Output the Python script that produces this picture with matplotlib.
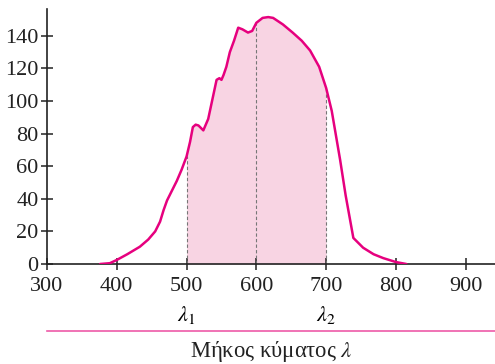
import matplotlib.pyplot as plt
from matplotlib.lines import Line2D

plt.rcParams['font.family'] = ['Liberation Serif', 'DejaVu Serif']
plt.rcParams['mathtext.fontset'] = 'stix'

# Spectrum curve
wavelength = [376, 390, 400, 415, 433, 445, 455, 462, 467, 472, 479, 486, 493,
              500, 505, 509, 513, 517, 524, 531, 537, 543, 547, 550, 553, 557,
              562, 568, 574, 580, 588, 594, 600, 609, 617, 624, 638, 652, 665,
              677, 690, 700, 708, 714, 720, 728, 739, 753, 768, 782, 800, 815]
intensity = [0, 0.5, 2.5, 6, 10.6, 15, 20, 26, 33, 39, 45, 51, 58,
             66, 75, 84, 85.5, 85, 82, 89, 101, 113, 114, 113, 116, 121,
             130, 137, 145, 144, 142, 143, 148, 151, 151.5, 151, 147, 142, 137,
             131, 121, 108, 94, 79, 64, 42, 16, 10, 6, 3.6, 1.2, 0]
xticks = [300, 400, 500, 600, 700, 800, 900]
yticks = [0, 20, 40, 60, 80, 100, 120, 140]
lam1, lam2 = 500, 700
mid = 600

pink = '#e6007e'

fig = plt.figure(figsize=(4.95, 3.64), dpi=100)
ax = fig.add_axes([0.095, 0.2747, 0.905, 0.7003])

band_x = [w for w in wavelength if lam1 <= w <= lam2]
band_y = [i for w, i in zip(wavelength, intensity) if lam1 <= w <= lam2]
ax.fill_between(band_x, band_y, 0, color='#f8d4e3', lw=0, zorder=1)

for xv in [lam1, mid, lam2]:
    yv = intensity[wavelength.index(xv)]
    ax.plot([xv, xv], [0, yv], ls=(0, (3, 2)), color='#777777', lw=0.8, zorder=2)

ax.plot(wavelength, intensity, color=pink, lw=1.8, zorder=3,
        solid_joinstyle='round', solid_capstyle='round')

ax.set_xlim(300, 942)
ax.set_ylim(0, 156.4)
ax.set_xticks(xticks)
ax.set_yticks(yticks)
ax.spines['top'].set_visible(False)
ax.spines['right'].set_visible(False)
for s in ['left', 'bottom']:
    ax.spines[s].set_linewidth(1.2)
    ax.spines[s].set_color('#222222')
ax.tick_params(direction='inout', length=8, width=1.1, labelsize=16,
               colors='#222222')
ax.tick_params(axis='y', pad=2)
ax.tick_params(axis='x', pad=5)

ax.text(lam1, -0.2, r'$\lambda_1$', transform=ax.get_xaxis_transform(),
        ha='center', va='center', fontsize=16)
ax.text(lam2, -0.2, r'$\lambda_2$', transform=ax.get_xaxis_transform(),
        ha='center', va='center', fontsize=16)

fig.add_artist(Line2D([47 / 495, 1.0], [1 - 331 / 364, 1 - 331 / 364],
                      color='#ee5aa8', lw=1.2, transform=fig.transFigure))
fig.text(0.548, 1 - 352 / 364, r'Μήκος κύματος $\lambda$', ha='center',
         va='center', fontsize=16.3, color='#222222')

fig.savefig('out.png', dpi=100)
